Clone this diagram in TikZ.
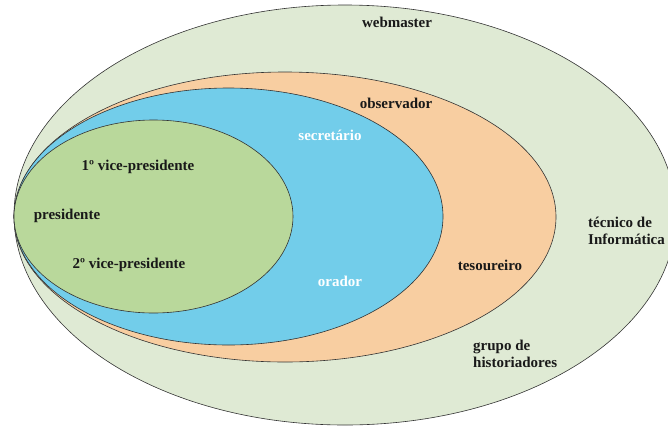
\documentclass[tikz,border=0pt]{standalone}
\usepackage{fontspec}
\setmainfont{Liberation Serif}
\definecolor{outergreen}{HTML}{DFEAD4}
\definecolor{peach}{HTML}{F8CEA1}
\definecolor{skyblue}{HTML}{72CDEA}
\definecolor{leafgreen}{HTML}{B9D89B}
\tikzset{
  ring/.style={draw=black!80,line width=0.6pt},
  role/.style={font=\fontsize{15}{17}\selectfont\bfseries,text=black!90,inner sep=0pt},
  rolew/.style={role,text=white}
}
\begin{document}
\begin{tikzpicture}[x=1pt,y=-1pt]
      \useasboundingbox (0,0) rectangle (668,426);
      \clip (0,0) rectangle (668,426);
      \draw[ring,fill=outergreen] (345,215) ellipse [x radius=331,y radius=210];
      \draw[ring,fill=peach] (285,217) ellipse [x radius=271,y radius=145];
      \draw[ring,fill=skyblue] (228.5,216.5) ellipse [x radius=214.5,y radius=128.5];
      \draw[ring,fill=leafgreen] (153.5,216.5) ellipse [x radius=139.5,y radius=96.5];
      \node[role] (web) at (397,22) {webmaster};
      \node[role] (obs) at (396,103) {observador};
      \node[rolew] (sec) at (330,135) {secretário};
      \node[role] (vp1) at (138,167) {1º vice-presidente};
      \node[role] (pres) at (67,216) {presidente};
      \node[role] (vp2) at (129,265) {2º vice-presidente};
      \node[rolew] (ora) at (340,281) {orador};
      \node[role] (tes) at (490,265) {tesoureiro};
      \node[role,anchor=west,align=left] (tec) at (588,231) {técnico de\\Informática};
      \node[role,anchor=west,align=left] (hist) at (473,354) {grupo de\\historiadores};
    \end{tikzpicture}
\end{document}
